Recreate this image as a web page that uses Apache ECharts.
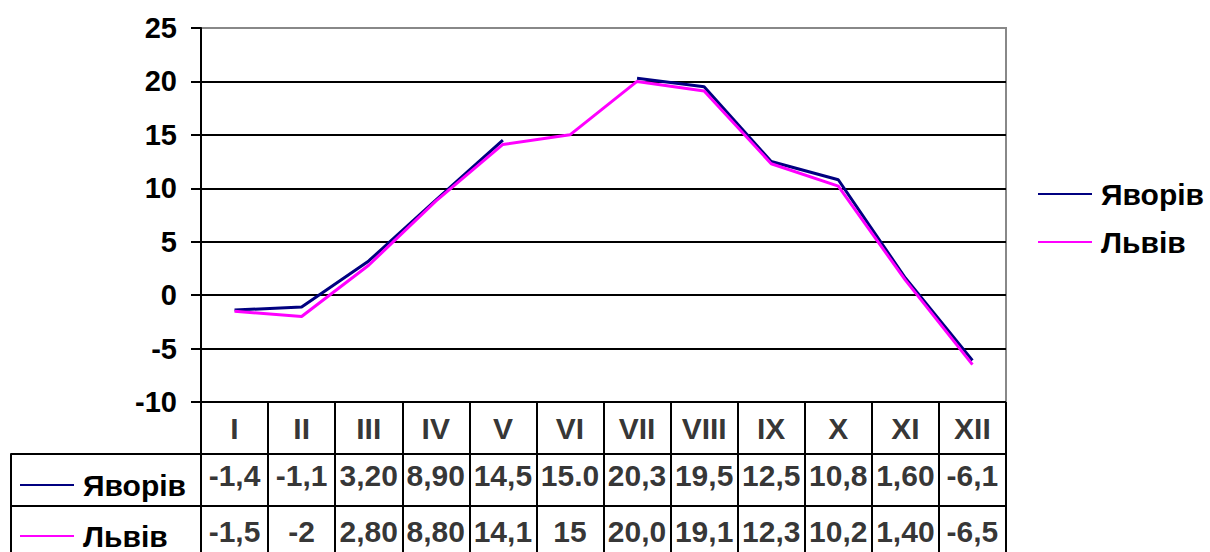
<!DOCTYPE html>
<html>
<head>
<meta charset="utf-8">
<script src="https://cdn.jsdelivr.net/npm/echarts@6.0.0/dist/echarts.min.js"></script>
<style>
    html, body { margin: 0; padding: 0; background: #fff; }
    #chart { width: 1210px; height: 552px; }
</style>
</head>
<body>
<div id="chart"></div>
<script>
// місяці та значення
const months = ['I', 'II', 'III', 'IV', 'V', 'VI', 'VII', 'VIII', 'IX', 'X', 'XI', 'XII']
// VI у Яворові записано як текст "15.0", тому на графіку там розрив
const yavoriv = [-1.4, -1.1, 3.2, 8.9, 14.5, null, 20.3, 19.5, 12.5, 10.8, 1.6, -6.1]
const lviv = [-1.5, -2, 2.8, 8.8, 14.1, 15, 20.0, 19.1, 12.3, 10.2, 1.4, -6.5]
// підписи в таблиці даних
const yavorivLabels = ['-1,4', '-1,1', '3,20', '8,90', '14,5', '15.0', '20,3', '19,5', '12,5', '10,8', '1,60', '-6,1']
const lvivLabels = ['-1,5', '-2', '2,80', '8,80', '14,1', '15', '20,0', '19,1', '12,3', '10,2', '1,40', '-6,5']
const seriesNames = ['Яворів', 'Львів']

const font = "'Liberation Sans', Arial, sans-serif"
const black = { color: '#000', width: 2 }

const cells = []
months.forEach((m, i) => {
    cells.push({ value: [i, 0, m] })
    cells.push({ value: [i, 1, yavorivLabels[i]], label: { offset: [0, -5] } })
    cells.push({ value: [i, 2, lvivLabels[i]], label: { offset: [0, -1] } })
})

const chart = echarts.init(document.getElementById('chart'), null, { renderer: 'svg' })

const legendText = {
    fontSize: 30,
    fontWeight: 'bold',
    color: '#000',
    fontFamily: font,
    lineHeight: 28,
    padding: [0, 0, 0, 4],
}

chart.setOption({
    animation: false,
    grid: [
        { left: 201, top: 28, width: 805, height: 374, show: true, borderColor: '#888', borderWidth: 2, outerBoundsMode: 'none' },
        { left: 201, top: 402, width: 805, height: 156, outerBoundsMode: 'none' },
        { left: 11, top: 454, width: 190, height: 104, outerBoundsMode: 'none' },
    ],
    xAxis: [
        { gridIndex: 0, type: 'category', data: months, show: false },
        {
            gridIndex: 1,
            type: 'category',
            data: months,
            axisLine: { show: false },
            axisTick: { show: false },
            axisLabel: { show: false },
            splitLine: { show: true, interval: 0, lineStyle: black },
        },
        { gridIndex: 2, type: 'value', min: 0, max: 1, show: false },
    ],
    yAxis: [
        {
            gridIndex: 0,
            type: 'value',
            min: -10,
            max: 25,
            interval: 5,
            axisLine: { show: true, lineStyle: black },
            axisTick: { show: true, length: 10, lineStyle: black },
            axisLabel: { margin: 24, fontSize: 29, fontWeight: 'bold', color: '#000', fontFamily: font },
            splitLine: { show: true, showMaxLine: false, lineStyle: black },
        },
        {
            gridIndex: 1,
            type: 'category',
            data: [0, 1, 2],
            inverse: true,
            axisLine: { show: true, lineStyle: black },
            axisTick: { show: false },
            axisLabel: { show: false },
            splitLine: { show: true, interval: 0, lineStyle: black },
        },
        {
            gridIndex: 2,
            type: 'category',
            data: seriesNames,
            inverse: true,
            axisLine: { show: true, lineStyle: black },
            axisTick: { show: false },
            axisLabel: { show: false },
            splitLine: { show: true, interval: 0, lineStyle: black },
        },
    ],
    legend: [
        {
            data: seriesNames,
            orient: 'vertical',
            left: 1038,
            top: 179,
            padding: 0,
            icon: 'rect',
            itemWidth: 54,
            itemHeight: 2,
            itemGap: 18,
            selectedMode: false,
            textStyle: legendText,
        },
        {
            data: seriesNames,
            orient: 'vertical',
            left: 20,
            top: 470,
            padding: 0,
            icon: 'rect',
            itemWidth: 54,
            itemHeight: 2,
            itemGap: 21,
            selectedMode: false,
            textStyle: legendText,
        },
    ],
    series: [
        {
            name: 'Яворів',
            type: 'line',
            data: yavoriv,
            symbol: 'none',
            connectNulls: false,
            lineStyle: { color: '#000080', width: 3 },
            itemStyle: { color: '#000080' },
        },
        {
            name: 'Львів',
            type: 'line',
            data: lviv,
            symbol: 'none',
            lineStyle: { color: '#ff00ff', width: 3 },
            itemStyle: { color: '#ff00ff' },
        },
        {
            name: 'table',
            type: 'scatter',
            xAxisIndex: 1,
            yAxisIndex: 1,
            data: cells,
            symbolSize: 0,
            silent: true,
            label: {
                show: true,
                position: 'inside',
                formatter: p => p.value[2],
                fontSize: 30,
                fontWeight: 'bold',
                color: '#000',
                fontFamily: font,
            },
        },
    ],
})
</script>
</body>
</html>
